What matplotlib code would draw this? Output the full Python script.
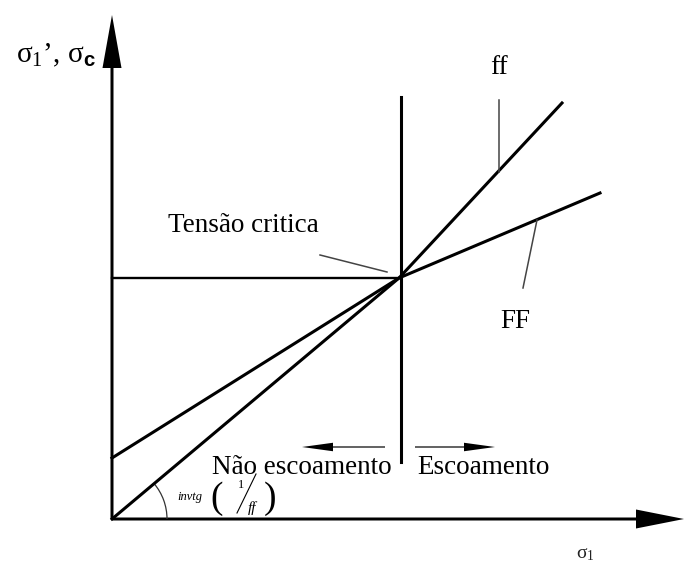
import numpy as np
import matplotlib.pyplot as plt
from matplotlib.patches import Arc

plt.rcParams['font.family'] = ['Liberation Serif', 'DejaVu Serif']
plt.rcParams['mathtext.fontset'] = 'custom'
plt.rcParams['mathtext.rm'] = 'Liberation Serif'
plt.rcParams['mathtext.it'] = 'Liberation Serif:italic'
plt.rcParams['mathtext.bf'] = 'Liberation Sans:bold'

# Sketch coordinates: origin at the corner of the axes, 1 unit ~ 100 px
CRIT_X, CRIT_Y = 2.87, 2.41          # "Tensão critica" point

# ff line (steeper) and FF line (flatter), both through the critical point
ff_x = [0.00, 2.87, 4.50]
ff_y = [0.00, 2.41, 4.16]
FF_x = [0.00, 2.87, 4.88]
FF_y = [0.61, 2.41, 3.26]

# vertical yield separator
sep_x = 2.89
sep_y = [0.57, 4.22]

# leader lines (start, end)
ff_leader = [(3.87, 4.19), (3.87, 3.47)]
FF_leader = [(4.25, 2.99), (4.11, 2.31)]
crit_leader = [(2.08, 2.64), (2.75, 2.47)]

# direction arrows under the diagram
arrow_y = 0.72
left_arrow = (2.73, 1.90)
right_arrow = (3.03, 3.83)

LABEL_SIZE = 19.5
LINE_W = 2.2

fig = plt.figure(figsize=(6.85, 5.64), dpi=100)
ax = fig.add_axes([0, 0, 1, 1])
ax.set_xlim(-1.12, 5.73)
ax.set_ylim(-0.45, 5.19)
ax.axis('off')

# axes with solid arrow heads
ax.arrow(0, 0, 0, 5.04, width=0.03, head_width=0.19, head_length=0.53,
         length_includes_head=True, color='black', lw=0)
ax.arrow(0, 0, 5.72, 0, width=0.03, head_width=0.19, head_length=0.48,
         length_includes_head=True, color='black', lw=0)

ax.plot(ff_x, ff_y, color='black', lw=LINE_W, solid_joinstyle='round')
ax.plot(FF_x, FF_y, color='black', lw=LINE_W, solid_joinstyle='round')
ax.plot([0, CRIT_X], [CRIT_Y, CRIT_Y], color='black', lw=1.7)
ax.plot([sep_x, sep_x], sep_y, color='black', lw=LINE_W)

for seg in (ff_leader, FF_leader, crit_leader):
    xs, ys = zip(*seg)
    ax.plot(xs, ys, color='#444444', lw=1.1)

# angle arc between x axis and ff line
ang = np.degrees(np.arctan2(ff_y[1], ff_x[1]))
ax.add_patch(Arc((0, 0), 1.1, 1.1, theta1=0, theta2=ang, color='#333333', lw=0.9))

for x0, x1 in (left_arrow, right_arrow):
    ax.arrow(x0, arrow_y, x1 - x0, 0, width=0.012, head_width=0.085,
             head_length=0.31, length_includes_head=True, color='black', lw=0)

# labels
ax.text(3.87, 4.52, 'ff', fontsize=LABEL_SIZE, ha='center', va='center')
ax.text(4.03, 1.97, 'FF', fontsize=LABEL_SIZE, ha='center', va='center')
ax.text(1.31, 2.94, 'Tensão critica', fontsize=LABEL_SIZE, ha='center', va='center')
ax.text(1.895, 0.51, 'Não escoamento', fontsize=LABEL_SIZE, ha='center', va='center')
ax.text(3.71, 0.51, 'Escoamento', fontsize=LABEL_SIZE, ha='center', va='center')

ax.text(-0.56, 4.64, r'$\mathrm{σ_1}$’, $\mathrm{σ}_{\mathbf{c}}$', fontsize=21,
        ha='center', va='center')
ax.text(4.73, -0.35, r'$\mathrm{σ_1}$', fontsize=14, ha='center', va='center',
        color='#222222')

# invtg(1/ff) annotation
ax.text(0.78, 0.22, 'invtg', fontsize=9, style='italic', ha='center', va='center')
ax.text(1.05, 0.20, '(', fontsize=27, ha='center', va='center')
ax.text(1.58, 0.20, ')', fontsize=27, ha='center', va='center')
ax.text(1.29, 0.34, '1', fontsize=9, ha='center', va='center')
ax.plot([1.25, 1.44], [0.06, 0.45], color='black', lw=0.8)
ax.text(1.40, 0.11, 'ff', fontsize=11, style='italic', ha='center', va='center')

fig.savefig('out.png', dpi=100, facecolor='white')
